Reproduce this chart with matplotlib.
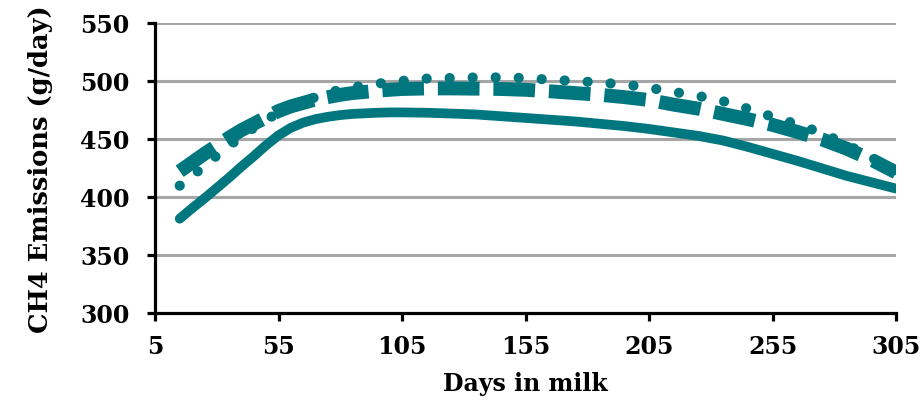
import matplotlib
matplotlib.use("Agg")
import matplotlib.pyplot as plt

# Days in milk at which the emission curves are sampled
days = [15, 20, 25, 30, 35, 40, 45, 50, 55, 60, 65, 70, 75, 80, 85, 90, 95,
        100, 105, 115, 125, 135, 145, 155, 165, 175, 185, 195, 205, 215, 225,
        235, 245, 255, 265, 275, 285, 295, 305]

# CH4 emissions (g/day) for three scenarios
ch4_solid = [381, 390, 398.5, 407.5, 416.5, 426, 435, 444.5, 453, 459.5, 464,
             467, 469, 470.5, 471.5, 472, 472.5, 472.8, 472.8, 472.5, 471.8,
             471, 469.5, 468, 466.5, 465, 463, 461, 458.5, 455.5, 452.5, 448.5,
             443, 437, 431, 424.5, 418, 412.5, 407]
ch4_dashed = [422, 429.5, 437, 444, 451, 457.5, 463, 468.5, 474, 478, 481, 484,
              486, 488, 489.5, 490.5, 491.5, 492.3, 493, 493.5, 493.5, 493.3,
              493, 492.3, 491, 489.5, 488, 486, 483.5, 479.5, 476, 471.5, 467,
              462, 456, 449.5, 441.5, 432, 421]
ch4_dotted = [409.5, 418, 426.5, 435.5, 444, 452, 459.5, 466.5, 472.5, 477.5,
              482, 486, 489.5, 492.5, 494.5, 496, 497.5, 499, 500, 502, 502.5,
              503, 503, 502.5, 501, 500, 498.5, 497, 494, 490.5, 487, 482.5, 476,
              469, 462.5, 455, 445, 434, 422]

x_ticks = [5, 55, 105, 155, 205, 255, 305]
y_ticks = [300, 350, 400, 450, 500, 550]

teal = "#00767F"
font = {"family": "DejaVu Serif", "weight": "bold", "size": 17}

fig = plt.figure(figsize=(9.23, 4.06), dpi=100)
ax = fig.add_axes([155 / 923, 1 - 313.5 / 406, 741 / 923, 289.5 / 406])

ax.plot(days, ch4_solid, color=teal, lw=7, solid_capstyle="round", zorder=3)
ax.plot(days, ch4_dotted, color=teal, lw=7.3, linestyle=(0, (0.01, 2.26)),
        dash_capstyle="round", zorder=3)
ax.plot(days, ch4_dashed, color=teal, lw=10, linestyle=(0, (3.0, 1.0)),
        dash_capstyle="butt", zorder=4)

ax.set_xlim(5, 305)
ax.set_ylim(300, 550)
ax.set_xticks(x_ticks)
ax.set_yticks(y_ticks)
ax.set_xticklabels([str(v) for v in x_ticks], fontdict=font)
ax.set_yticklabels([str(v) for v in y_ticks], fontdict=font)

ax.yaxis.grid(True, color="#A6A6A6", lw=2.2)
ax.set_axisbelow(True)

for side in ("top", "right"):
    ax.spines[side].set_visible(False)
for side in ("left", "bottom"):
    ax.spines[side].set_linewidth(2.3)
    ax.spines[side].set_color("black")

ax.tick_params(axis="both", direction="out", length=5.5, width=2.3, color="black")
ax.tick_params(axis="x", pad=10)
ax.tick_params(axis="y", pad=13)

ax.set_xlabel("Days in milk", fontdict=font, labelpad=9)
ax.set_ylabel("CH4 Emissions (g/day)", fontdict=dict(font, size=18.5), labelpad=19)

fig.savefig("out.png", dpi=100)
